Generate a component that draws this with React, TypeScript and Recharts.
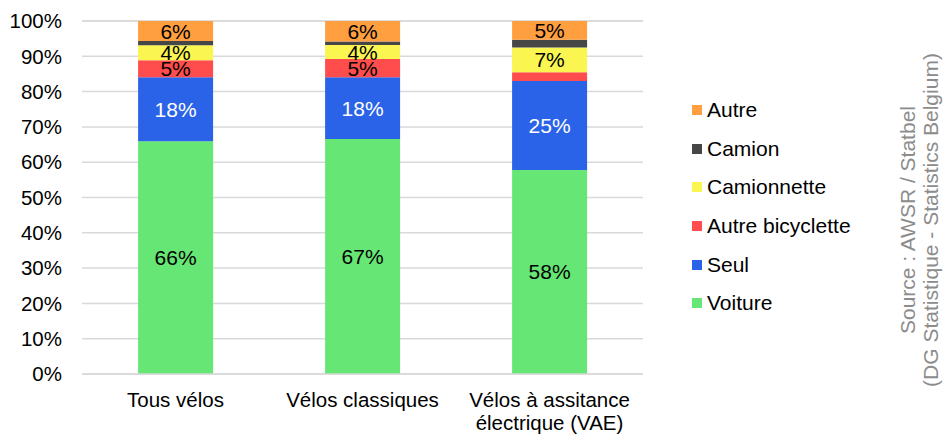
import { BarChart, Bar, XAxis, YAxis, CartesianGrid, Legend, LabelList } from 'recharts';

const categories = ['Tous vélos', 'Vélos classiques', 'Vélos à assitance électrique (VAE)'];
const tickLines: string[][] = [['Tous vélos'], ['Vélos classiques'], ['Vélos à assitance', 'électrique (VAE)']];

const voiture = [65.9, 66.6, 57.8];
const seul = [18.2, 17.5, 25.2];
const autreBicyclette = [4.8, 5.1, 2.5];
const camionnette = [4.2, 4.0, 7.0];
const camion = [1.2, 1.0, 2.2];
const autre = [5.7, 5.8, 5.3];

const yTicks = [0, 10, 20, 30, 40, 50, 60, 70, 80, 90, 100];

const series = [
  { key: 'voiture', name: 'Voiture', values: voiture, color: '#66E674', label: '#000' },
  { key: 'seul', name: 'Seul', values: seul, color: '#2B63E8', label: '#fff' },
  { key: 'autreBicyclette', name: 'Autre bicyclette', values: autreBicyclette, color: '#FF4D4D', label: '#000' },
  { key: 'camionnette', name: 'Camionnette', values: camionnette, color: '#FAF550', label: '#000' },
  { key: 'camion', name: 'Camion', values: camion, color: '#464646', label: '#000' },
  { key: 'autre', name: 'Autre', values: autre, color: '#FF9F40', label: '#000' },
];

const data = categories.map((c, i) => {
  const row: Record<string, string | number> = { name: c, idx: i };
  series.forEach((s) => (row[s.key] = s.values[i]));
  return row;
});

const font = '"Liberation Sans", Arial, sans-serif';

const XTick = (props: any) => {
  const { x, y, payload } = props;
  const lines = tickLines[payload.index] || [payload.value];
  return (
    <text x={x} y={y + 25} textAnchor='middle' fontSize={20.5} fill='#000' fontFamily={font}>
      {lines.map((l, i) => (
        <tspan key={i} x={x} dy={i === 0 ? 0 : 23}>
          {l}
        </tspan>
      ))}
    </text>
  );
};

const makeLabel = (color: string) => (props: any) => {
  const { x, y, width, height, value } = props;
  if (value < 3) return null;
  return (
    <text
      x={x + width / 2}
      y={y + height / 2}
      textAnchor='middle'
      dominantBaseline='central'
      fontSize={21}
      fill={color}
      fontFamily={font}
    >
      {Math.round(value)}%
    </text>
  );
};

const LegendContent = () => (
  <div style={{ fontFamily: font, fontSize: 21, color: '#000' }}>
    {[...series].reverse().map((s) => (
      <div key={s.key} style={{ display: 'flex', alignItems: 'center', height: 38.6 }}>
        <span style={{ width: 10, height: 10, background: s.color, marginRight: 5, display: 'inline-block' }} />
        <span>{s.name}</span>
      </div>
    ))}
  </div>
);

const App = () => {
  return (
    <div style={{ position: 'absolute', left: 0, top: 0, width: 943, height: 434, background: '#fff', overflow: 'hidden' }}>
      <BarChart
        width={943}
        height={434}
        data={data}
        margin={{ top: 21, right: 100, bottom: 30, left: 0 }}
        barCategoryGap='30%'
      >
        <CartesianGrid vertical={false} stroke='#d9d9d9' strokeWidth={1.5} />
        <XAxis
          dataKey='name'
          height={30}
          tick={<XTick />}
          tickLine={false}
          axisLine={{ stroke: '#d9d9d9', strokeWidth: 1.5 }}
          interval={0}
        />
        <YAxis
          width={82}
          domain={[0, 100]}
          ticks={yTicks}
          tickFormatter={(v) => `${v}%`}
          tickLine={false}
          axisLine={false}
          tick={{ fontSize: 20.5, fill: '#000', fontFamily: font }}
          tickMargin={14}
        />
        <Legend
          layout='vertical'
          align='right'
          verticalAlign='top'
          content={<LegendContent />}
          wrapperStyle={{ left: 692, top: 91, width: 200 }}
        />
        {series.map((s) => (
          <Bar key={s.key} dataKey={s.key} name={s.name} stackId='a' fill={s.color} isAnimationActive={false}>
            <LabelList dataKey={s.key} content={makeLabel(s.label)} />
          </Bar>
        ))}
      </BarChart>
      <div
        style={{
          position: 'absolute',
          left: 919,
          top: 220,
          transform: 'translate(-50%, -50%) rotate(-90deg)',
          whiteSpace: 'nowrap',
          textAlign: 'center',
          fontFamily: font,
          fontSize: 21,
          lineHeight: '23px',
          color: '#8c8c8c',
        }}
      >
        Source : AWSR / Statbel
        <br />
        (DG Statistique - Statistics Belgium)
      </div>
    </div>
  );
};

export default App;
